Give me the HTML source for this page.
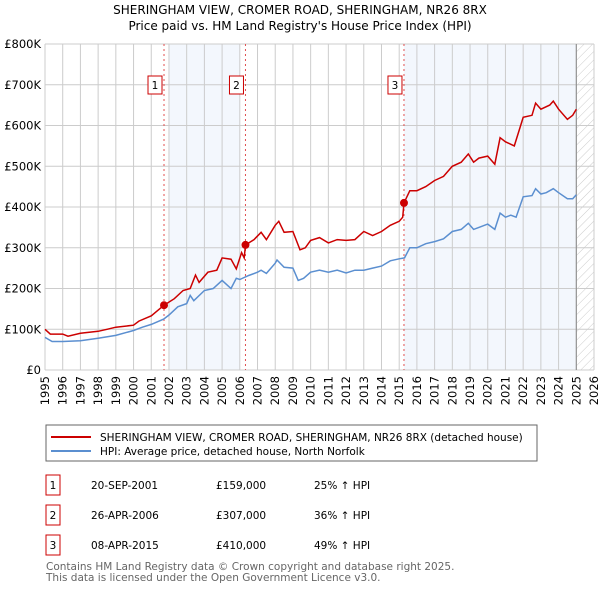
<!DOCTYPE html>
<html><head><meta charset="utf-8"><style>
body{margin:0;background:#fff;font-family:"Liberation Sans","DejaVu Sans",sans-serif;}
svg text{font-family:"DejaVu Sans","Liberation Sans",sans-serif;}
</style></head><body>
<svg id="c" width="600" height="590" viewBox="0 0 600 590" xmlns="http://www.w3.org/2000/svg">
<defs><pattern id="hatch" width="6" height="6" patternUnits="userSpaceOnUse" patternTransform="rotate(45)"><line x1="0" y1="0" x2="0" y2="6" stroke="#ccc" stroke-width="1"/></pattern></defs>
<text x="300" y="14" text-anchor="middle" font-size="12">SHERINGHAM VIEW, CROMER ROAD, SHERINGHAM, NR26 8RX</text>
<text x="300" y="30" text-anchor="middle" font-size="12">Price paid vs. HM Land Registry's House Price Index (HPI)</text>
<g id="plot"></g>
<rect x="46" y="425" width="491" height="36" fill="#fff" stroke="#666"/>
<line x1="51" y1="437" x2="91" y2="437" stroke="#cc0000" stroke-width="2"/>
<text x="100" y="441" font-size="10.5">SHERINGHAM VIEW, CROMER ROAD, SHERINGHAM, NR26 8RX (detached house)</text>
<line x1="51" y1="451" x2="91" y2="451" stroke="#5b8fd0" stroke-width="2"/>
<text x="100" y="455" font-size="10.5">HPI: Average price, detached house, North Norfolk</text>
<g font-size="10.5">
<rect x="46" y="475" width="14" height="20" fill="#fff" stroke="#cc0000"/><text x="53" y="489" text-anchor="middle">1</text>
<text x="91" y="489">20-SEP-2001</text><text x="216" y="489">£159,000</text><text x="314" y="489">25% ↑ HPI</text>
<rect x="46" y="505" width="14" height="20" fill="#fff" stroke="#cc0000"/><text x="53" y="519" text-anchor="middle">2</text>
<text x="91" y="519">26-APR-2006</text><text x="216" y="519">£307,000</text><text x="314" y="519">36% ↑ HPI</text>
<rect x="46" y="535" width="14" height="20" fill="#fff" stroke="#cc0000"/><text x="53" y="549" text-anchor="middle">3</text>
<text x="91" y="549">08-APR-2015</text><text x="216" y="549">£410,000</text><text x="314" y="549">49% ↑ HPI</text>
</g>
<text x="46" y="570" font-size="10.5" fill="#666">Contains HM Land Registry data © Crown copyright and database right 2025.</text>
<text x="46" y="581" font-size="10.5" fill="#666">This data is licensed under the Open Government Licence v3.0.</text>
</svg>
<script>
const hpiT=[1995,1995.4,1996,1997,1998,1999,2000,2000.5,2001,2001.7,2002,2002.5,2003,2003.2,2003.4,2004,2004.5,2005,2005.5,2005.8,2006,2006.5,2007,2007.2,2007.5,2008,2008.1,2008.5,2009,2009.3,2009.6,2010,2010.5,2011,2011.5,2012,2012.5,2013,2013.5,2014,2014.5,2015,2015.3,2015.6,2016,2016.5,2017,2017.5,2018,2018.5,2018.9,2019.2,2019.5,2020,2020.4,2020.7,2021,2021.3,2021.6,2022,2022.5,2022.7,2023,2023.3,2023.7,2024,2024.5,2024.8,2025];
const hpiV=[80,70,70,72,78,85,97,105,112,125,135,155,163,183,170,195,200,220,200,225,222,232,240,245,237,262,270,252,250,220,225,240,245,240,245,238,245,245,250,255,268,273,275,300,300,310,315,322,340,345,360,345,350,358,345,385,375,380,375,425,428,445,432,435,445,435,420,420,430];
const priceT=[1995,1995.3,1996,1996.3,1997,1998,1998.5,1999,2000,2000.3,2001,2001.72,2002.3,2002.8,2003.2,2003.5,2003.7,2004.2,2004.7,2005,2005.5,2005.8,2006.1,2006.25,2006.32,2006.8,2007.2,2007.5,2008,2008.2,2008.5,2009,2009.4,2009.7,2010,2010.5,2011,2011.5,2012,2012.5,2013,2013.5,2014,2014.5,2015,2015.2,2015.27,2015.6,2016,2016.5,2017,2017.5,2018,2018.5,2018.9,2019.2,2019.5,2020,2020.4,2020.7,2021,2021.5,2022,2022.5,2022.7,2023,2023.5,2023.7,2024,2024.5,2024.8,2025];
const priceV=[100,88,88,83,90,95,100,105,110,120,133,159,175,195,200,233,215,240,245,275,272,248,288,275,307,320,338,320,355,365,338,340,295,300,318,325,312,320,318,320,340,330,340,355,365,375,410,440,440,450,465,475,500,510,530,510,520,525,505,570,560,550,620,625,655,640,650,660,640,615,625,640];
const saleT=[2001.72,2006.32,2015.27];
const saleV=[159,307,410];
const saleLabels=["1","2","3"];
const yTicks=[0,100,200,300,400,500,600,700,800];
const yTickLabels=["£0","£100K","£200K","£300K","£400K","£500K","£600K","£700K","£800K"];
const xYears=[1995,1996,1997,1998,1999,2000,2001,2002,2003,2004,2005,2006,2007,2008,2009,2010,2011,2012,2013,2014,2015,2016,2017,2018,2019,2020,2021,2022,2023,2024,2025,2026];

const X0=45,X1=594,Y0=370,Y1=44;
const x=t=>X0+(t-1995)/(2026-1995)*(X1-X0);
const y=v=>Y0-v/800*(Y0-Y1);
const NS="http://www.w3.org/2000/svg";
const g=document.getElementById('plot');
function mk(tag,attrs,parent){const e=document.createElementNS(NS,tag);for(const k in attrs)e.setAttribute(k,attrs[k]);(parent||g).appendChild(e);return e;}

let e=mk('rect',{x:x(2002),y:Y1,width:x(2006)-x(2002),height:Y0-Y1,fill:'#eef3fc',opacity:0.7});


e=mk('rect',{x:x(saleT[2]),y:Y1,width:x(2025)-x(saleT[2]),height:Y0-Y1,fill:'#eef3fc',opacity:0.7});


e=mk('rect',{x:x(2025),y:Y1,width:X1-x(2025),height:Y0-Y1,fill:'url(#hatch)'});



yTicks.forEach((v,i)=>{
  let l=mk('line',{x1:X0,x2:X1,y1:y(v),y2:y(v),stroke:'#ccc','stroke-width':1});
  
  
  let t=mk('text',{x:X0-4,y:y(v)+4,'text-anchor':'end','font-size':'11.5'});
  t.textContent=yTickLabels[i];
  
  
});
xYears.forEach(yr=>{
  let l=mk('line',{x1:x(yr),x2:x(yr),y1:Y1,y2:Y0,stroke:'#ccc','stroke-width':1});
  
  
  let t=mk('text',{x:0,y:0,'text-anchor':'end','font-size':'11.5',transform:`translate(${x(yr)+4},${Y0+6}) rotate(-90)`});
  t.textContent=yr;
  
  
});
e=mk('line',{x1:x(2025),x2:x(2025),y1:Y1,y2:Y0,stroke:'#888','stroke-width':1});



saleT.forEach((t,i)=>{
  let l=mk('line',{x1:x(t),x2:x(t),y1:Y1,y2:Y0,stroke:'#e05050','stroke-width':1,'stroke-dasharray':'2,3'});
  
  
  let r=mk('rect',{x:x(t)-16,y:76,width:14,height:18,fill:'#fff',stroke:'#cc0000'});
  
  
  let tx=mk('text',{x:x(t)-9,y:89,'text-anchor':'middle','font-size':'10.5'});
  tx.textContent=saleLabels[i];
  
  
});

const pts=(T,V)=>T.map((t,i)=>x(t).toFixed(1)+','+y(V[i]).toFixed(1)).join(' ');
e=mk('polyline',{points:pts(hpiT,hpiV),fill:'none',stroke:'#5b8fd0','stroke-width':1.5});


e=mk('polyline',{points:pts(priceT,priceV),fill:'none',stroke:'#cc0000','stroke-width':1.5});


saleT.forEach((t,i)=>{
  let c=mk('circle',{cx:x(t),cy:y(saleV[i]),r:4,fill:'#cc0000'});
  
  
});
</script>
</body></html>
